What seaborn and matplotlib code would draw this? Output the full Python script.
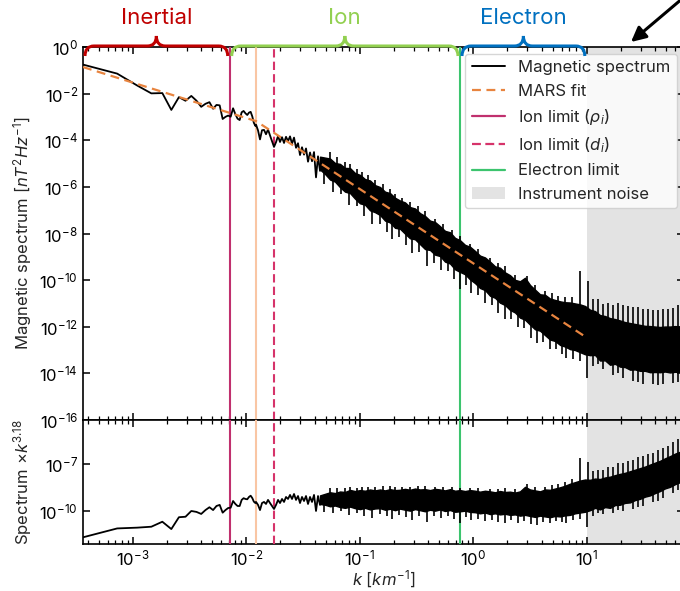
import numpy as np
import pandas as pd
import matplotlib
matplotlib.use("Agg")
import matplotlib.pyplot as plt
import matplotlib.ticker as mticker
from matplotlib.path import Path
from matplotlib.patches import PathPatch, Patch
from matplotlib.lines import Line2D
from matplotlib.transforms import IdentityTransform
import seaborn as sns

# ---------------------------------------------------------------- data
# lowest wavenumbers of the spectrum (individual FFT bins), km^-1
k_low = [0.000364, 0.000728, 0.001092, 0.001456, 0.00182, 0.002184, 0.002548,
         0.002912, 0.003276, 0.00364, 0.004004, 0.004368, 0.004732, 0.005096,
         0.00546, 0.005824, 0.006188, 0.006552, 0.006916, 0.00728, 0.007644,
         0.008008, 0.008372, 0.008736, 0.0091, 0.009464, 0.009828, 0.010192,
         0.010556, 0.01092, 0.011284, 0.011648, 0.012012]
# log10 of the compensated spectrum (PSD * k^3.18) at those bins
comp_low_exp = [-11.69, -11.12, -11.07, -11.01, -10.69, -11.16, -10.40, -10.37,
                -10.00, -10.06, -10.19, -9.94, -9.76, -9.94, -9.68, -9.61,
                -10.11, -9.94, -9.81, -9.79, -9.36, -9.55, -9.68, -9.68,
                -9.29, -9.18, -9.23, -9.25, -9.10, -9.02, -9.17, -9.40, -9.49]

# next stretch, still resolved as a single trace
k_mid = [0.01218, 0.01268, 0.0132, 0.01375, 0.01432, 0.01491, 0.01553, 0.01617,
         0.01684, 0.01754, 0.01827, 0.01903, 0.01981, 0.02063, 0.02149,
         0.02238, 0.0233, 0.02427, 0.02527, 0.02632, 0.02741, 0.02854, 0.02972,
         0.03095, 0.03224, 0.03357, 0.03496, 0.03641, 0.03792, 0.03949,
         0.04112, 0.04282, 0.04459]
comp_mid_exp = [-9.42, -9.61, -9.94, -9.49, -9.42, -9.55, -9.29, -9.49, -9.68,
                -9.87, -9.61, -9.29, -9.49, -9.23, -9.42, -9.10, -9.23, -8.97,
                -9.23, -8.91, -9.29, -9.04, -9.49, -9.10, -9.36, -9.04, -9.55,
                -9.10, -9.42, -8.97, -10.00, -9.04, -9.61]

# dense part of the spectrum: upper / lower edge of its core (log10 compensated PSD)
k_band = [0.04459, 0.04934, 0.05463, 0.06046, 0.06692, 0.07406, 0.08197,
          0.09072, 0.1004, 0.1111, 0.123, 0.1361, 0.1507, 0.1668, 0.1845,
          0.2042, 0.226, 0.2502, 0.2769, 0.3064, 0.3392, 0.3754, 0.4154,
          0.4598, 0.5088, 0.5632, 0.6232, 0.6898, 0.7634, 0.8449, 0.9352,
          1.035, 1.146, 1.268, 1.403, 1.553, 1.719, 1.902, 2.105, 2.33, 2.579,
          2.855, 3.16, 3.497, 3.87, 4.283, 4.741, 5.247, 5.807, 6.427, 7.112,
          7.871, 8.712, 9.641, 10.67, 11.81, 13.07, 14.47, 16.01, 17.72, 19.61,
          21.71, 24.03, 26.59, 29.43, 32.57, 36.05, 39.9, 44.16, 48.87, 54.08,
          59.86, 66.25]
comp_hi_exp = [-9.00, -8.90, -8.80, -8.85, -8.75, -8.78, -8.65, -8.72, -8.66,
               -8.70, -8.62, -8.68, -8.62, -8.68, -8.60, -8.66, -8.64, -8.58,
               -8.64, -8.56, -8.62, -8.60, -8.66, -8.58, -8.62, -8.68, -8.60,
               -8.70, -8.66, -8.72, -8.66, -8.70, -8.76, -8.70, -8.74, -8.80,
               -8.72, -8.78, -8.76, -8.82, -8.74, -8.45, -8.62, -8.68, -8.74,
               -8.62, -8.64, -8.56, -8.48, -8.38, -8.25, -8.15, -8.05, -7.98,
               -8.00, -7.92, -7.95, -7.85, -7.80, -7.70, -7.62, -7.55, -7.45,
               -7.35, -7.25, -7.15, -7.02, -6.90, -6.78, -6.62, -6.48, -6.32,
               -6.20]
comp_lo_exp = [-9.55, -9.60, -9.70, -9.65, -9.75, -9.80, -9.72, -9.82, -9.88,
               -9.80, -9.90, -9.84, -9.82, -9.92, -9.86, -9.95, -9.85, -9.92,
               -9.98, -9.88, -9.95, -10.02, -9.92, -9.98, -9.90, -10.00, -9.94,
               -10.05, -10.02, -9.98, -10.06, -10.08, -10.15, -10.10, -10.20,
               -10.15, -10.22, -10.18, -10.25, -10.22, -10.30, -10.25, -10.32,
               -10.38, -10.30, -10.35, -10.40, -10.32, -10.35, -10.28, -10.25,
               -10.15, -10.10, -10.05, -9.95, -9.80, -9.90, -9.75, -9.80, -9.62,
               -9.60, -9.48, -9.45, -9.30, -9.22, -9.08, -9.00, -8.85, -8.72,
               -8.55, -8.45, -8.28, -8.15]

# isolated spikes reaching beyond the dense core (log10 compensated PSD at tip)
k_spike_up = [0.05458, 0.06295, 0.07406, 0.08204, 0.09447, 0.1046, 0.118,
              0.1361, 0.16, 0.1845, 0.2042, 0.2355, 0.2769, 0.3258, 0.3754,
              0.46, 0.5408, 0.649, 0.7634, 0.9347, 1.1, 1.403, 1.651, 1.902,
              2.33, 2.97, 3.497, 4.283, 4.936, 5.576, 6.424, 7.4, 8.712, 10.14,
              11.23, 12.43, 13.75, 15.22, 16.84, 18.64, 20.63, 22.84, 25.27,
              27.97, 30.95, 34.26, 37.93, 41.98, 46.45, 51.41, 56.9, 62.97]
spike_up_exp = [-8.52, -8.55, -8.52, -8.46, -8.50, -8.48, -8.46, -8.45, -8.39,
                -8.42, -8.48, -8.46, -8.44, -8.39, -8.40, -8.46, -8.45, -8.46,
                -8.50, -8.55, -8.55, -8.60, -8.58, -8.50, -8.60, -8.30, -8.48,
                -8.45, -8.35, -8.30, -8.15, -7.94, -6.60, -6.85, -7.45, -7.35,
                -7.40, -7.20, -7.15, -6.95, -6.90, -6.80, -6.70, -6.55, -6.50,
                -6.35, -6.25, -6.10, -5.95, -5.80, -5.60, -5.35]
k_spike_dn = [0.04837, 0.05806, 0.06831, 0.08034, 0.09447, 0.1089, 0.1281,
              0.1507, 0.1737, 0.1922, 0.2215, 0.2553, 0.2884, 0.3323, 0.3908,
              0.4505, 0.5192, 0.5984, 0.676, 0.7634, 0.8624, 0.9544, 1.1, 1.268,
              1.462, 1.651, 1.902, 2.149, 2.476, 2.797, 3.224, 3.64, 4.113,
              4.741, 5.355, 6.047, 6.557, 7.556, 8.712, 10.04, 11.23, 12.43,
              13.75, 16.84, 18.64, 20.63, 25.27, 27.97, 30.95, 37.93, 41.98,
              46.45, 56.9, 62.97]
spike_dn_exp = [-10.05, -10.15, -10.00, -10.25, -10.10, -10.30, -10.45, -10.20,
                -10.35, -10.50, -10.25, -10.40, -10.55, -10.30, -10.71, -10.35,
                -10.45, -10.30, -10.50, -10.77, -10.40, -10.60, -10.50, -10.65,
                -10.55, -10.70, -10.80, -10.60, -10.75, -10.65, -10.85, -10.90,
                -10.70, -10.80, -10.65, -10.70, -10.75, -10.60, -10.50, -11.03,
                -10.35, -10.10, -10.20, -10.15, -9.95, -10.00, -9.85, -9.75,
                -9.70, -9.45, -9.35, -9.15, -8.85, -8.65]

# MARS piecewise power-law fit (knots)
fit_k = [0.000364, 0.0122, 10.0]
fit_psd = [10 ** -0.86, 10 ** -3.18, 10 ** -12.47]
fit_knot = 0.0122

# characteristic scales
k_rho_i = 0.00714
k_d_i = 0.01754
k_e = 0.763
k_noise = 10.0
comp_index = 3.18

k_min, k_max = 0.000364, 71.8

# ---------------------------------------------------------------- style
sns.set_theme(style="ticks")
plt.rcParams["font.family"] = ["Inter", "DejaVu Sans"]
plt.rcParams["mathtext.fontset"] = "custom"
plt.rcParams["mathtext.rm"] = "Inter"
plt.rcParams["mathtext.it"] = "Inter:italic"
plt.rcParams["mathtext.bf"] = "Inter:bold"
plt.rcParams["axes.edgecolor"] = "black"
plt.rcParams["axes.linewidth"] = 1.2

C_RHO = "#c0306e"
C_DI = "#d6336a"
C_E = "#3cc46e"
C_FIT = "#e8843f"
C_KNOT = "#f9c6a4"
C_NOISE = "#e3e3e3"
FS = 12

trace_k = np.array(k_low + k_mid)
trace_comp = 10.0 ** np.array(comp_low_exp + comp_mid_exp)
trace_df = pd.DataFrame({"k": trace_k, "comp": trace_comp,
                         "psd": trace_comp / trace_k ** comp_index})
fit_df = pd.DataFrame({"k": fit_k, "psd": fit_psd})

k_band = np.array(k_band)
comp_hi = 10.0 ** np.array(comp_hi_exp)
comp_lo = 10.0 ** np.array(comp_lo_exp)
k_spike_dn = np.array(k_spike_dn)
k_spike_up = np.array(k_spike_up)
spike_dn = 10.0 ** np.array(spike_dn_exp)
spike_up = 10.0 ** np.array(spike_up_exp)


def band_mid(k):
    """Geometric middle of the dense band at wavenumbers k (compensated)."""
    mid = 0.5 * (np.array(comp_hi_exp) + np.array(comp_lo_exp))
    return 10.0 ** np.interp(np.log10(k), np.log10(k_band), mid)


W, H = 680, 591
fig = plt.figure(figsize=(W / 100, H / 100), dpi=100)
ax1 = fig.add_axes([83 / W, 1 - 420 / H, 601 / W, 373 / H])
ax2 = fig.add_axes([83 / W, 1 - 544 / H, 601 / W, 124 / H], sharex=ax1)

for ax in (ax1, ax2):
    ax.set_xscale("log")
    ax.set_yscale("log")
    ax.axvspan(k_noise, k_max * 2, color=C_NOISE, lw=0, zorder=0)
    ax.axvline(k_rho_i, color=C_RHO, lw=1.5, zorder=3)
    ax.axvline(fit_knot, color=C_KNOT, lw=1.5, zorder=3)
    ax.axvline(k_d_i, color=C_DI, lw=1.5, ls=(0, (4, 2)), zorder=3)
    ax.axvline(k_e, color=C_E, lw=1.5, zorder=3)
    ax.tick_params(which="both", direction="in", top=True, right=True,
                   labelsize=FS, colors="black")
    ax.tick_params(which="major", length=5, width=1.1)
    ax.tick_params(which="minor", length=3, width=0.9)


def draw_spectrum(ax, ycol, compensate):
    """Trace + dense band + spikes; compensate=False divides by k^3.18."""
    def f(k, v):
        return v if compensate else v / k ** comp_index
    sns.lineplot(data=trace_df, x="k", y=ycol, ax=ax, color="black", lw=1.3,
                 estimator=None, sort=False, zorder=4)
    ax.fill_between(k_band, f(k_band, comp_lo), f(k_band, comp_hi),
                    facecolor="black", edgecolor="black", lw=1.0, zorder=4)
    ax.vlines(k_spike_up, f(k_spike_up, band_mid(k_spike_up)),
              f(k_spike_up, spike_up), color="black", lw=1.2, zorder=4)
    ax.vlines(k_spike_dn, f(k_spike_dn, band_mid(k_spike_dn)),
              f(k_spike_dn, spike_dn), color="black", lw=1.2, zorder=4)


# top panel: spectrum and fit
draw_spectrum(ax1, "psd", compensate=False)
sns.lineplot(data=fit_df, x="k", y="psd", ax=ax1, color=C_FIT, lw=1.6,
             linestyle=(0, (4, 2.5)), zorder=5)

ax1.set_xlim(k_min, k_max)
ax1.set_ylim(1e-16, 1)
ax1.yaxis.set_major_locator(mticker.FixedLocator([10.0 ** e for e in range(-16, 1, 2)]))
ax1.yaxis.set_minor_locator(mticker.NullLocator())
ax1.xaxis.set_minor_locator(mticker.LogLocator(base=10, subs=np.arange(2, 10), numticks=20))
ax1.tick_params(labelbottom=False)
ax1.set_xlabel("")
ax1.set_ylabel(r"Magnetic spectrum [$nT^2Hz^{-1}$]", fontsize=FS)

# bottom panel: compensated spectrum
draw_spectrum(ax2, "comp", compensate=True)
ax2.set_xlim(k_min, k_max)
ax2.set_ylim(7.6e-13, 6.9e-5)
ax2.yaxis.set_major_locator(mticker.FixedLocator([1e-10, 1e-7]))
ax2.yaxis.set_minor_locator(mticker.NullLocator())
ax2.xaxis.set_major_locator(mticker.LogLocator(base=10, numticks=20))
ax2.xaxis.set_minor_locator(mticker.LogLocator(base=10, subs=np.arange(2, 10), numticks=20))
ax2.set_xlabel(r"$k$ [$km^{-1}$]", fontsize=FS, labelpad=0)
ax2.set_ylabel(r"Spectrum $\times k^{3.18}$", fontsize=FS)
fig.align_ylabels([ax1, ax2])

# legend
handles = [
    Line2D([], [], color="black", lw=1.4),
    Line2D([], [], color=C_FIT, lw=1.6, ls=(0, (4, 2.5))),
    Line2D([], [], color=C_RHO, lw=1.6),
    Line2D([], [], color=C_DI, lw=1.6, ls=(0, (4, 2))),
    Line2D([], [], color=C_E, lw=1.6),
    Patch(facecolor=C_NOISE, edgecolor="none"),
]
labels = ["Magnetic spectrum", "MARS fit", r"Ion limit ($\rho_i$)",
          r"Ion limit ($d_i$)", "Electron limit", "Instrument noise"]
ax1.legend(handles, labels, loc="upper right", fontsize=FS, frameon=True,
           borderaxespad=0.4)

# curly braces marking the three ranges above the plot
fig.canvas.draw()


def brace(x0, x1, color, text):
    to_px = ax1.transData.transform
    px0 = to_px((x0, 1.0))[0] + 2
    px1 = to_px((x1, 1.0))[0] - 2
    pm = 0.5 * (px0 + px1)
    y_end, y_mid, y_tip, r = H - 56, H - 46, H - 36, 9
    verts = [(px0, y_end), (px0, y_mid), (px0 + r, y_mid),
             (pm - r, y_mid), (pm, y_mid), (pm, y_tip),
             (pm, y_mid), (pm + r, y_mid),
             (px1 - r, y_mid), (px1, y_mid), (px1, y_end)]
    codes = [Path.MOVETO, Path.CURVE3, Path.CURVE3,
             Path.LINETO, Path.CURVE3, Path.CURVE3,
             Path.CURVE3, Path.CURVE3,
             Path.LINETO, Path.CURVE3, Path.CURVE3]
    fig.add_artist(PathPatch(Path(verts, codes), facecolor="none",
                             edgecolor=color, lw=2.2,
                             transform=IdentityTransform(), clip_on=False))
    fig.text(pm, H - 18, text, color=color, fontsize=16, ha="center",
             va="center", transform=IdentityTransform())


brace(k_min, k_rho_i, "#c00000", "Inertial")
brace(k_rho_i, k_e, "#92d050", "Ion")
brace(k_e, k_noise, "#0070c0", "Electron")

# arrow pointing at the instrument-noise range
ax1.annotate("", xy=(631, H - 42), xycoords="figure pixels",
             xytext=(683, H + 2), textcoords="figure pixels",
             arrowprops=dict(arrowstyle="-|>", color="black", lw=2.2,
                             mutation_scale=22, shrinkA=0, shrinkB=0),
             annotation_clip=False)

fig.savefig("out.png", dpi=100)
